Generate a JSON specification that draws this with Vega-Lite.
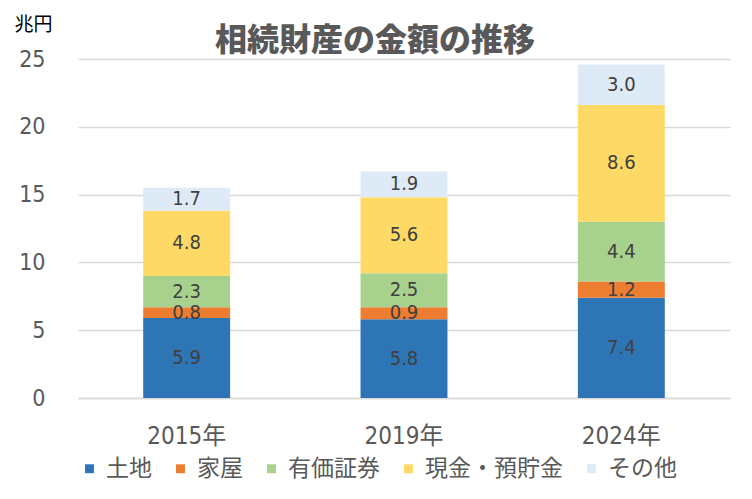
{
  "$schema": "https://vega.github.io/schema/vega-lite/v6.json",
  "description": "相続財産の金額の推移 (stacked bars)",
  "autosize": "none",
  "padding": {"left": 78, "top": 59, "right": 22, "bottom": 101},
  "width": 652,
  "height": 339,
  "background": "white",
  "title": {
    "text": "相続財産の金額の推移",
    "font": "Noto Sans CJK JP",
    "fontWeight": 900,
    "fontSize": 32,
    "color": "#595959",
    "anchor": "middle",
    "frame": "group",
    "dx": -29,
    "offset": -43
  },
  "data": {
    "values": [
      {"year": "2015年", "item": "土地", "idx": 1, "value": 5.9},
      {"year": "2015年", "item": "家屋", "idx": 2, "value": 0.8},
      {"year": "2015年", "item": "有価証券", "idx": 3, "value": 2.3},
      {"year": "2015年", "item": "現金・預貯金", "idx": 4, "value": 4.8},
      {"year": "2015年", "item": "その他", "idx": 5, "value": 1.7},
      {"year": "2019年", "item": "土地", "idx": 1, "value": 5.8},
      {"year": "2019年", "item": "家屋", "idx": 2, "value": 0.9},
      {"year": "2019年", "item": "有価証券", "idx": 3, "value": 2.5},
      {"year": "2019年", "item": "現金・預貯金", "idx": 4, "value": 5.6},
      {"year": "2019年", "item": "その他", "idx": 5, "value": 1.9},
      {"year": "2024年", "item": "土地", "idx": 1, "value": 7.4},
      {"year": "2024年", "item": "家屋", "idx": 2, "value": 1.2},
      {"year": "2024年", "item": "有価証券", "idx": 3, "value": 4.4},
      {"year": "2024年", "item": "現金・預貯金", "idx": 4, "value": 8.6},
      {"year": "2024年", "item": "その他", "idx": 5, "value": 3.0}
    ]
  },
  "transform": [
    {"stack": "value", "groupby": ["year"], "sort": [{"field": "idx"}], "as": ["v0", "v1"]},
    {"calculate": "(datum.v0 + datum.v1) / 2", "as": "vmid"}
  ],
  "encoding": {
    "x": {
      "field": "year",
      "type": "nominal",
      "title": null,
      "scale": {"paddingInner": 0.6, "paddingOuter": 0.3},
      "axis": {
        "labelAngle": 0,
        "labelFont": "DejaVu Sans Condensed, Noto Sans CJK JP",
        "labelFontSize": 24,
        "labelColor": "#595959",
        "labelPadding": 26,
        "domainColor": "#D9D9D9",
        "domainWidth": 1.5,
        "ticks": false
      }
    }
  },
  "layer": [
    {
      "mark": {"type": "bar"},
      "encoding": {
        "y": {
          "field": "v0",
          "type": "quantitative",
          "scale": {"domain": [0, 25], "nice": false, "zero": true},
          "axis": {
            "values": [0, 5, 10, 15, 20, 25],
            "title": "兆円",
            "titleAngle": 0,
            "titleAlign": "left",
            "titleBaseline": "middle",
            "titleX": -64,
            "titleY": -35,
            "titleFont": "Noto Sans CJK JP",
            "titleFontWeight": "normal",
            "titleFontSize": 19,
            "titleColor": "#000000",
            "labelFont": "DejaVu Sans Condensed",
            "labelFontSize": 23,
            "labelColor": "#595959",
            "labelPadding": 33,
            "domain": false,
            "ticks": false,
            "gridColor": "#D9D9D9",
            "gridWidth": 1.5
          }
        },
        "y2": {"field": "v1"},
        "color": {
          "field": "item",
          "type": "nominal",
          "sort": ["土地", "家屋", "有価証券", "現金・預貯金", "その他"],
          "scale": {
            "domain": ["土地", "家屋", "有価証券", "現金・預貯金", "その他"],
            "range": ["#2E75B6", "#ED7D31", "#A9D18E", "#FFD966", "#DEEBF7"]
          },
          "legend": {
            "title": null,
            "orient": "none",
            "direction": "horizontal",
            "legendX": 0,
            "legendY": 398,
            "symbolType": "square",
            "symbolSize": 80,
            "symbolStrokeWidth": 0,
            "labelFont": "Noto Sans CJK JP",
            "labelFontSize": 23,
            "labelColor": "#595959",
            "labelOffset": 5,
            "columnPadding": 17
          }
        }
      }
    },
    {
      "mark": {
        "type": "text",
        "font": "DejaVu Sans Condensed",
        "fontSize": 20,
        "color": "#404040",
        "baseline": "middle"
      },
      "encoding": {
        "y": {"field": "vmid", "type": "quantitative"},
        "text": {"field": "value", "type": "quantitative", "format": ".1f"}
      }
    }
  ],
  "config": {
    "view": {"stroke": null}
  }
}
